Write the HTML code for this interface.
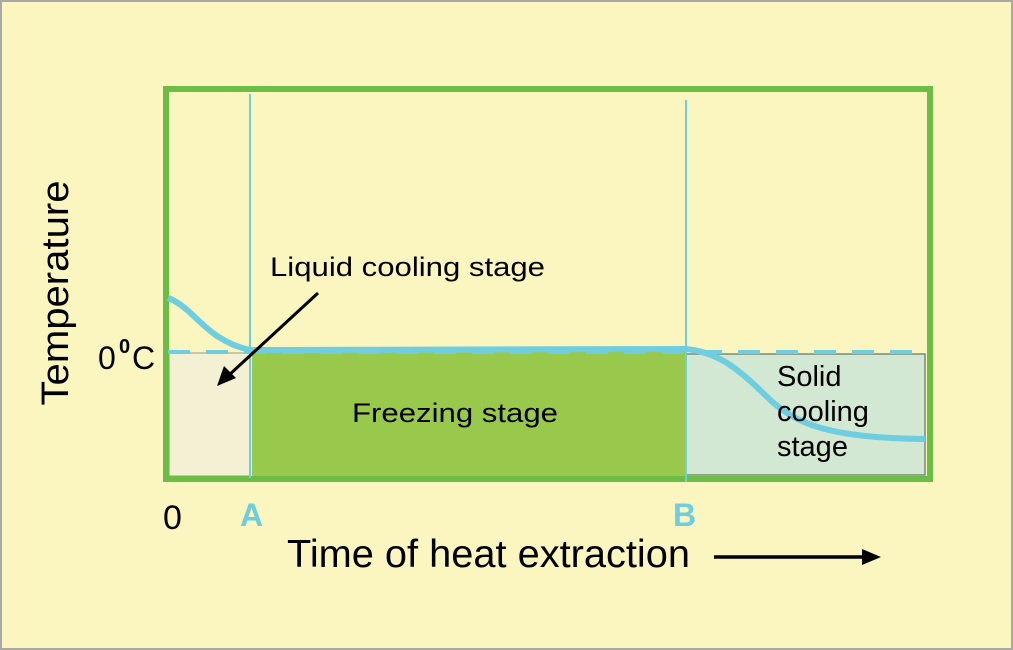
<!DOCTYPE html>
<html><head><style>
html,body{margin:0;padding:0;background:#fbf5c0;}
svg{display:block;}
text{font-family:"Liberation Sans",sans-serif;}
</style></head><body>
<svg width="1013" height="650" viewBox="0 0 1013 650" xmlns="http://www.w3.org/2000/svg">
<rect x="1" y="1" width="1011" height="648" fill="#fbf5c0" stroke="#a8a8a8" stroke-width="2"/>
<rect x="169" y="353" width="81" height="123" fill="#f3f0d3" stroke="#9a9a80" stroke-width="1"/>
<rect x="252" y="352" width="433" height="124" fill="#98c84c"/>
<rect x="686" y="354" width="239" height="121" fill="#d3e8d2" stroke="#7a8a7a" stroke-width="1.5"/>
<rect x="166" y="89" width="764" height="390" fill="none" stroke="#6bbd45" stroke-width="6"/>
<line x1="168" y1="352" x2="925" y2="352" stroke="#6fcde0" stroke-width="4" stroke-dasharray="22,16"/>
<line x1="250" y1="94" x2="250" y2="478" stroke="#6fcde0" stroke-width="2"/>
<line x1="686" y1="100" x2="686" y2="482" stroke="#6fcde0" stroke-width="2"/>
<path d="M168,298 C195,308 205,340 250,350 L686,349 C715,352 735,365 765,395 C795,425 830,438 925,439" fill="none" stroke="#6fcde0" stroke-width="6"/>
<line x1="318" y1="293" x2="228" y2="376" stroke="#000" stroke-width="3"/>
<polygon points="217,386 224,366 236,378" fill="#000"/>
<text x="58" y="293" font-size="38" text-anchor="middle" transform="rotate(-90 58 293)" dominant-baseline="middle" textLength="225" lengthAdjust="spacingAndGlyphs">Temperature</text>
<text x="98" y="369" font-size="32">0</text><text x="119" y="353" font-size="20" font-weight="bold">0</text><text x="132" y="369" font-size="32">C</text>
<text x="270" y="276" font-size="27" textLength="275" lengthAdjust="spacingAndGlyphs">Liquid cooling stage</text>
<text x="352" y="422" font-size="27" textLength="206" lengthAdjust="spacingAndGlyphs">Freezing stage</text>
<text x="777" y="386" font-size="29">Solid</text>
<text x="777" y="421" font-size="29">cooling</text>
<text x="777" y="456" font-size="29">stage</text>
<text x="163" y="529" font-size="34">0</text>
<text x="240" y="526" font-size="32" font-weight="bold" fill="#6fcde0">A</text>
<text x="673" y="526" font-size="32" font-weight="bold" fill="#6fcde0">B</text>
<text x="287" y="567" font-size="39" textLength="403" lengthAdjust="spacingAndGlyphs">Time of heat extraction</text>
<line x1="714" y1="557" x2="866" y2="557" stroke="#000" stroke-width="3.5"/>
<polygon points="881,557 862,549 862,565" fill="#000"/>
</svg>
</body></html>
